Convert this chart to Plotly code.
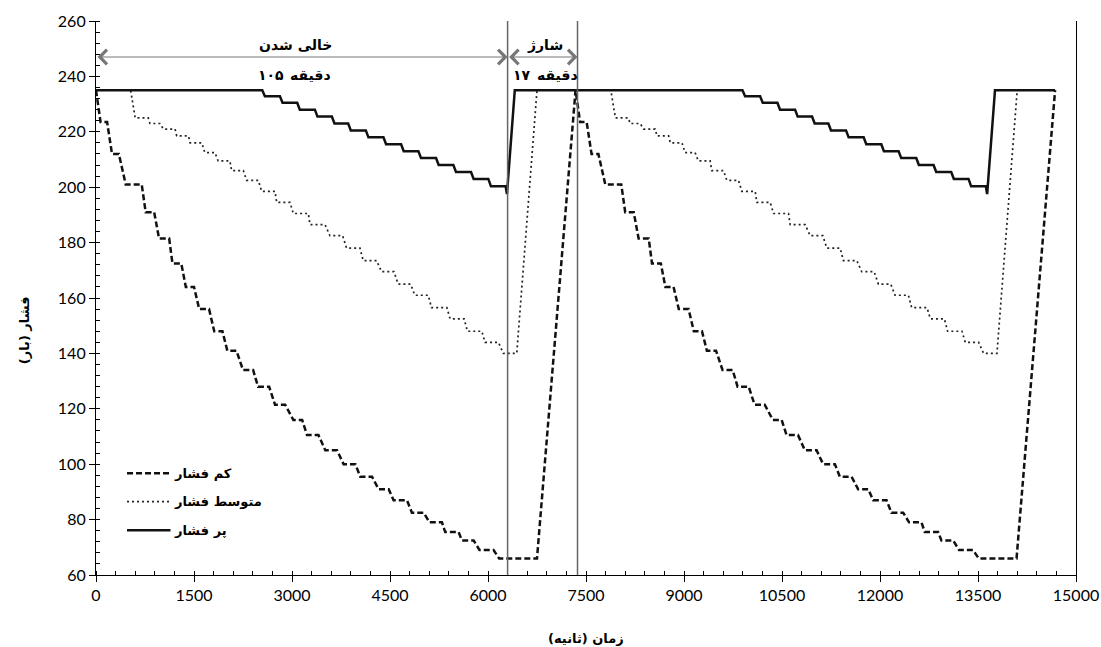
import plotly.graph_objects as go

# ---------------- data ----------------
# low pressure (dashed)
low_t = [0, 70, 170, 245, 350, 455, 700, 760, 890, 965, 1120, 1170, 1305, 1375, 1500,
         1580, 1730, 1810, 1935, 2010, 2150, 2250, 2405, 2480, 2650, 2740, 2895, 3020, 3155,
         3230, 3405, 3510, 3690, 3790, 3970, 4045, 4225, 4325, 4480, 4555, 4760, 4835, 5015,
         5105, 5295, 5345, 5550, 5600, 5780, 5870, 6085, 6170, 6750,
         7340, 7410, 7510, 7585, 7690, 7795, 8040, 8100, 8230, 8305, 8460, 8510, 8645, 8715,
         8840, 8920, 9070, 9150, 9275, 9350, 9490, 9590, 9745, 9820, 9990, 10080, 10235,
         10360, 10495, 10570, 10745, 10850, 11030, 11130, 11310, 11385, 11565, 11665, 11820,
         11895, 12100, 12175, 12355, 12445, 12635, 12685, 12890, 12940, 13120, 13210, 13425,
         13510, 14090, 14680]
low_p = [235, 223.5, 223.5, 212, 212, 201, 201, 191, 191, 181.5, 181.5, 172.5, 172.5, 164, 164,
         156, 156, 148, 148, 141, 141, 134, 134, 128, 128, 121.5, 121.5, 116, 116,
         110.5, 110.5, 105, 105, 100, 100, 95.5, 95.5, 91, 91, 87, 87, 82.5, 82.5,
         79, 79, 75.5, 75.5, 72.5, 72.5, 69, 69, 66, 66,
         235, 223.5, 223.5, 212, 212, 201, 201, 191, 191, 181.5, 181.5, 172.5, 172.5, 164,
         164, 156, 156, 148, 148, 141, 141, 134, 134, 128, 128, 121.5, 121.5,
         116, 116, 110.5, 110.5, 105, 105, 100, 100, 95.5, 95.5, 91, 91,
         87, 87, 82.5, 82.5, 79, 79, 75.5, 75.5, 72.5, 72.5, 69, 69,
         66, 66, 235]

# medium pressure (dotted)
mid_t = [0, 530, 600, 800, 825, 980, 1030, 1210, 1235, 1415, 1440, 1620, 1665, 1820, 1870,
         2050, 2075, 2255, 2305, 2485, 2535, 2740, 2765, 2970, 3020, 3250, 3275, 3505, 3580,
         3775, 3835, 4040, 4090, 4295, 4370, 4560, 4625, 4815, 4880, 5085, 5135, 5370, 5420,
         5635, 5685, 5905, 5955, 6160, 6235, 6440, 6750,
         7880, 7950, 8150, 8175, 8330, 8380, 8560, 8585, 8765, 8790, 8970, 9015, 9170, 9220,
         9400, 9425, 9605, 9655, 9835, 9885, 10090, 10115, 10320, 10370, 10600, 10625, 10855,
         10930, 11125, 11185, 11390, 11440, 11645, 11720, 11910, 11975, 12165, 12230, 12435,
         12485, 12720, 12770, 12985, 13035, 13255, 13305, 13510, 13585, 13790, 14100, 14680]
mid_p = [235, 235, 225, 225, 223, 223, 221, 221, 218.5, 218.5, 216, 216, 212.5, 212.5, 209.5,
         209.5, 206, 206, 202.5, 202.5, 198.5, 198.5, 194.5, 194.5, 190.5, 190.5, 186.5, 186.5, 182.5,
         182.5, 178, 178, 173.5, 173.5, 169.5, 169.5, 165, 165, 161, 161, 156.5, 156.5, 152.5,
         152.5, 148, 148, 144, 144, 140, 140, 235,
         235, 225, 225, 223, 223, 221, 221, 218.5, 218.5, 216, 216, 212.5, 212.5, 209.5,
         209.5, 206, 206, 202.5, 202.5, 198.5, 198.5, 194.5, 194.5, 190.5, 190.5, 186.5, 186.5,
         182.5, 182.5, 178, 178, 173.5, 173.5, 169.5, 169.5, 165, 165, 161, 161,
         156.5, 156.5, 152.5, 152.5, 148, 148, 144, 144, 140, 140, 235, 235]

# high pressure (solid)
high_t = [0, 2545, 2585, 2815, 2855, 3080, 3120, 3350, 3390, 3610, 3650, 3860, 3900, 4130, 4170,
          4400, 4440, 4670, 4710, 4935, 4975, 5205, 5245, 5470, 5510, 5740, 5780, 6005, 6045,
          6270, 6290, 6410,
          9895, 9935, 10165, 10205, 10430, 10470, 10700, 10740, 10960, 11000, 11210, 11250,
          11480, 11520, 11750, 11790, 12020, 12060, 12285, 12325, 12555, 12595, 12820, 12860,
          13090, 13130, 13355, 13395, 13620, 13640, 13760, 14680]
high_p = [235, 235, 232.8, 232.8, 230.5, 230.5, 228, 228, 225.5, 225.5, 223, 223, 220.5, 220.5, 218,
          218, 215.5, 215.5, 213, 213, 210.5, 210.5, 208, 208, 205.5, 205.5, 203, 203, 200.3,
          200.3, 197.5, 235,
          235, 232.8, 232.8, 230.5, 230.5, 228, 228, 225.5, 225.5, 223, 223, 220.5,
          220.5, 218, 218, 215.5, 215.5, 213, 213, 210.5, 210.5, 208, 208, 205.5,
          205.5, 203, 203, 200.3, 200.3, 197.5, 235, 235]

series_names = ["کم فشار", "متوسط فشار", "پر فشار"]
phase_bounds = [0, 6300, 7370]          # discharge start, discharge end / charge start, charge end
phase_titles = ["خالی شدن", "شارژ"]
phase_minutes = ["۱۰۵", "۱۷"]
minute_word = "دقیقه"
x_title = "زمان (ثانیه)"
y_title = "فشار (بار)"

# ---------------- figure ----------------
FA = "DejaVu Sans"
fig = go.Figure()
styles = [dict(color="#111111", width=2.5, dash="6px,3px"),
          dict(color="#222222", width=1.7, dash="2px,3px"),
          dict(color="#111111", width=2.5)]
for t, p, name, st in zip([low_t, mid_t, high_t], [low_p, mid_p, high_p], series_names, styles):
    fig.add_trace(go.Scatter(x=t, y=p, mode="lines", name=name, line=st, showlegend=False))

# vertical phase lines
for xb in phase_bounds[1:]:
    fig.add_shape(type="line", xref="x", yref="y", x0=xb, x1=xb, y0=60, y1=260,
                  line=dict(color="#666666", width=1.5))

# double arrows + labels
arrow_y = 247
for i in range(2):
    a, b = phase_bounds[i], phase_bounds[i + 1]
    fig.add_annotation(x=b, y=arrow_y, ax=a, ay=arrow_y, xref="x", yref="y", axref="x", ayref="y",
                       text="", showarrow=True, arrowside="end+start", arrowhead=4, startarrowhead=4,
                       arrowsize=2.8, startarrowsize=2.8, arrowwidth=1, arrowcolor="#777777")
label_x = [3050, 6873]
split_x = [2924, 6697]
lab_font = dict(family=FA, size=14, color="#000000", weight="bold")
for i in range(2):
    fig.add_annotation(x=label_x[i], y=251.3, xref="x", yref="y", text=phase_titles[i], showarrow=False,
                       font=lab_font)
    fig.add_annotation(x=split_x[i], y=240.6, xref="x", yref="y", text=phase_minutes[i], showarrow=False,
                       xanchor="right", xshift=-1, font=lab_font)
    fig.add_annotation(x=split_x[i], y=240.6, xref="x", yref="y", text=minute_word, showarrow=False,
                       xanchor="left", xshift=1, font=lab_font)

# manual legend
leg_y = [96.7, 86.5, 76.2]
for name, st, ly in zip(series_names, styles, leg_y):
    fig.add_shape(type="line", xref="x", yref="y", x0=475, x1=1140, y0=ly, y1=ly, line=st)
    fig.add_annotation(x=1170, y=ly, xref="x", yref="y", text=name, showarrow=False, xanchor="left",
                       font=dict(family=FA, size=13, color="#000000", weight="bold"))

# axis titles
fig.add_annotation(x=0.5, y=-0.114, xref="paper", yref="paper", text=x_title, showarrow=False,
                   yanchor="middle", font=dict(family=FA, size=13, color="#000000", weight="bold"))
fig.add_annotation(x=-0.083, y=0.442, xref="paper", yref="paper", text=y_title, showarrow=False,
                   textangle=-90, font=dict(family=FA, size=13, color="#000000", weight="bold"))

tickfont = dict(family="Lato", size=16, color="#000000")
fig.update_xaxes(range=[0, 15000], tickmode="linear", tick0=0, dtick=1500, tickformat="d",
                 showgrid=False, zeroline=False,
                 showline=True, linecolor="#000000", linewidth=1.2, ticks="outside", ticklen=6,
                 tickcolor="#000000", tickfont=tickfont, automargin=False,
                 minor=dict(dtick=300, ticks="inside", ticklen=4, tickcolor="#000000", showgrid=False))
fig.update_yaxes(range=[60, 260], tickmode="linear", tick0=60, dtick=20, tickformat="d",
                 showgrid=False, zeroline=False, mirror=True,
                 showline=True, linecolor="#000000", linewidth=1.2, ticks="outside", ticklen=6,
                 tickcolor="#000000", tickfont=tickfont, automargin=False,
                 minor=dict(dtick=4, ticks="inside", ticklen=4, tickcolor="#000000", showgrid=False))
fig.update_layout(width=1101, height=647, margin=dict(l=96, r=25, t=21, b=72),
                  plot_bgcolor="#ffffff", paper_bgcolor="#ffffff", showlegend=False)

fig.write_html("out.html", config={"displayModeBar": False},
               post_script="document.body.style.margin='0';document.body.style.overflow='hidden';")
